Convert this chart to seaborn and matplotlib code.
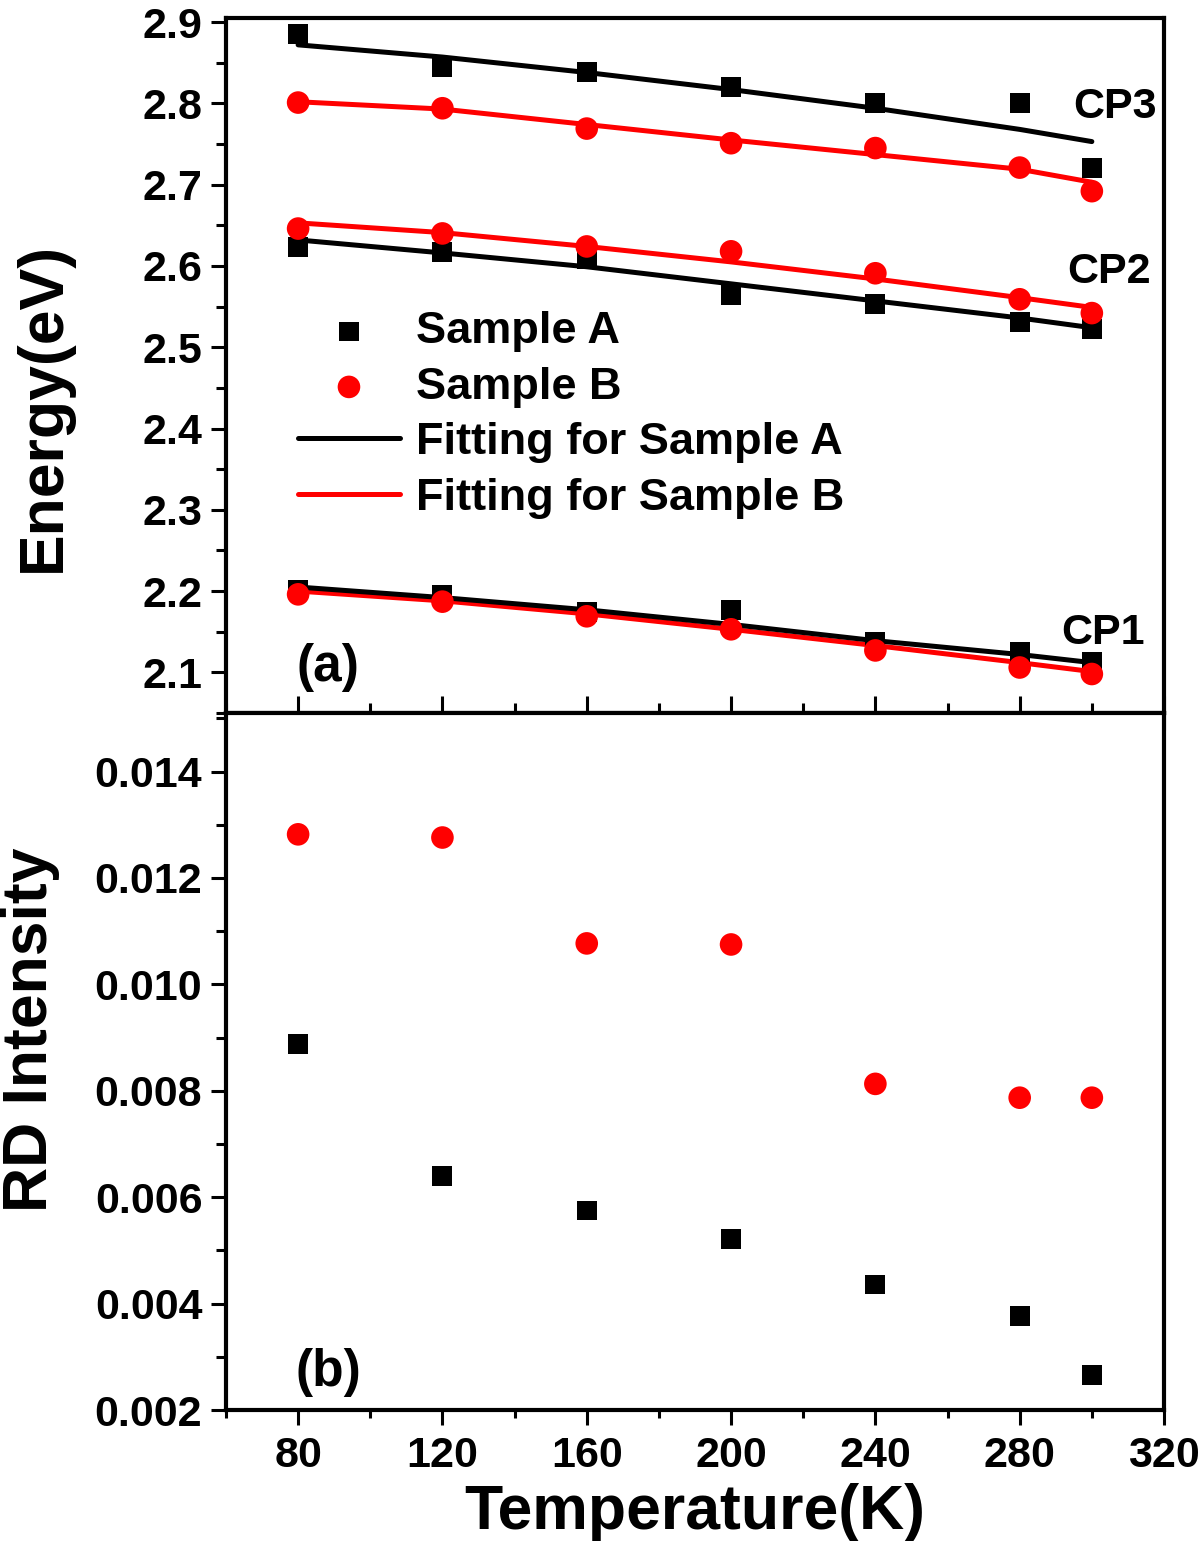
import numpy as np
import pandas as pd
import seaborn as sns
import matplotlib.pyplot as plt
from matplotlib.ticker import MultipleLocator, FormatStrFormatter

# temperatures (K)
temps = [80, 120, 160, 200, 240, 280, 300]

# critical point energies (eV)
cp3_a = [2.885, 2.845, 2.839, 2.820, 2.801, 2.800, 2.721]
cp3_b = [2.801, 2.794, 2.769, 2.751, 2.745, 2.721, 2.692]
cp2_a = [2.623, 2.617, 2.608, 2.564, 2.553, 2.531, 2.522]
cp2_b = [2.646, 2.640, 2.624, 2.618, 2.591, 2.559, 2.542]
cp1_a = [2.202, 2.195, 2.174, 2.177, 2.137, 2.125, 2.113]
cp1_b = [2.196, 2.187, 2.169, 2.153, 2.127, 2.106, 2.098]

# fitted curves evaluated at the same temperatures
fit3_a = [2.872, 2.857, 2.838, 2.817, 2.794, 2.768, 2.753]
fit3_b = [2.802, 2.793, 2.774, 2.755, 2.737, 2.719, 2.703]
fit2_a = [2.632, 2.616, 2.599, 2.578, 2.557, 2.536, 2.524]
fit2_b = [2.653, 2.641, 2.624, 2.605, 2.584, 2.561, 2.549]
fit1_a = [2.205, 2.192, 2.177, 2.159, 2.139, 2.122, 2.112]
fit1_b = [2.200, 2.188, 2.172, 2.153, 2.133, 2.112, 2.101]

# RD intensity
rd_a = [0.00888, 0.00639, 0.00575, 0.00522, 0.00436, 0.00376, 0.00266]
rd_b = [0.01282, 0.01276, 0.01077, 0.01075, 0.00813, 0.00787, 0.00787]

sns.set_style("ticks")
plt.rcParams['font.family'] = ['Liberation Sans', 'DejaVu Sans']
plt.rcParams['font.weight'] = 'bold'
plt.rcParams['axes.labelweight'] = 'bold'
for key in ['text.color', 'axes.labelcolor', 'xtick.color', 'ytick.color',
            'xtick.labelcolor', 'ytick.labelcolor', 'axes.edgecolor']:
    plt.rcParams[key] = 'black'

RED = '#ff0000'
SQ = 205
CI = 265

fig = plt.figure(figsize=(12, 15.41), dpi=100)
ax1 = fig.add_axes([0.1883, 0.5373, 0.7817, 0.4510])
ax2 = fig.add_axes([0.1883, 0.0850, 0.7817, 0.4523], sharex=ax1)

# top panel: energies
fits = [(fit1_a, fit1_b), (fit2_a, fit2_b), (fit3_a, fit3_b)]
pts = [(cp1_a, cp1_b), (cp2_a, cp2_b), (cp3_a, cp3_b)]
for i, (fa, fb) in enumerate(fits):
    sns.lineplot(x=temps, y=fb, color=RED, lw=3.6, ax=ax1,
                 label='Fitting for Sample B' if i == 0 else None, zorder=2)
    sns.lineplot(x=temps, y=fa, color='black', lw=3.6, ax=ax1,
                 label='Fitting for Sample A' if i == 0 else None, zorder=2)
for i, (pa, pb) in enumerate(pts):
    sns.scatterplot(x=temps, y=pa, marker='s', s=SQ, color='black', edgecolor='none',
                    ax=ax1, label='Sample A' if i == 0 else None, zorder=3)
    sns.scatterplot(x=temps, y=pb, marker='o', s=CI, color=RED, edgecolor='none',
                    ax=ax1, label='Sample B' if i == 0 else None, zorder=4)

handles, labels = ax1.get_legend_handles_labels()
hmap = dict(zip(labels, handles))
order = ['Sample A', 'Sample B', 'Fitting for Sample A', 'Fitting for Sample B']
ax1.legend([hmap[k] for k in order], order, loc='upper left',
           bbox_to_anchor=(0.077, 0.578), frameon=False, fontsize=32.5,
           handlelength=2.25, handletextpad=0.35, labelspacing=0.32,
           borderpad=0, borderaxespad=0, markerscale=1.0)

ax1.text(306.4, 2.796, 'CP3', fontsize=31, ha='center', va='center')
ax1.text(304.8, 2.592, 'CP2', fontsize=31, ha='center', va='center')
ax1.text(303.1, 2.149, 'CP1', fontsize=31, ha='center', va='center')
ax1.text(88.3, 2.106, '(a)', fontsize=37, ha='center', va='center')

ax1.set_ylim(2.05, 2.905)
ax1.set_ylabel('Energy(eV)', fontsize=45)
ax1.yaxis.set_label_coords(-0.195, 0.44)
ax1.yaxis.label.set_va('center')
ax1.yaxis.set_major_locator(MultipleLocator(0.1))
ax1.yaxis.set_minor_locator(MultipleLocator(0.05))
ax1.yaxis.set_major_formatter(FormatStrFormatter('%.1f'))
ax1.tick_params(axis='x', which='major', direction='inout', length=24, width=2.2,
                labelbottom=False)
ax1.tick_params(axis='x', which='minor', direction='inout', length=14, width=2.2)

# bottom panel: RD intensity
sns.scatterplot(x=temps, y=rd_a, marker='s', s=SQ, color='black', edgecolor='none',
                ax=ax2, zorder=3)
sns.scatterplot(x=temps, y=rd_b, marker='o', s=CI, color=RED, edgecolor='none',
                ax=ax2, zorder=4)
ax2.text(88.3, 0.00271, '(b)', fontsize=37, ha='center', va='center')

ax2.set_xlim(60, 320)
ax2.set_ylim(0.002, 0.0151)
ax2.xaxis.set_major_locator(MultipleLocator(40))
ax2.xaxis.set_minor_locator(MultipleLocator(20))
ax2.yaxis.set_major_locator(MultipleLocator(0.002))
ax2.yaxis.set_minor_locator(MultipleLocator(0.001))
ax2.yaxis.set_major_formatter(FormatStrFormatter('%.3f'))
ax2.set_ylabel('RD Intensity', fontsize=45)
ax2.yaxis.set_label_coords(-0.208, 0.545)
ax2.yaxis.label.set_va('center')
ax2.set_xlabel('Temperature(K)', fontsize=45, labelpad=5)
ax2.tick_params(axis='x', which='major', direction='out', length=11, width=2.2,
                labelsize=31, pad=8)
ax2.tick_params(axis='x', which='minor', direction='out', length=6, width=2.2)

for ax in (ax1, ax2):
    for sp in ax.spines.values():
        sp.set_visible(True)
        sp.set_linewidth(3)
        sp.set_color('black')
    ax.tick_params(axis='y', which='major', direction='out', length=11, width=2.2,
                   labelsize=31, pad=6, right=False)
    ax.tick_params(axis='y', which='minor', direction='out', length=7, width=2.2)
    ax.tick_params(top=False, which='both')

fig.savefig('out.png', dpi=100)
